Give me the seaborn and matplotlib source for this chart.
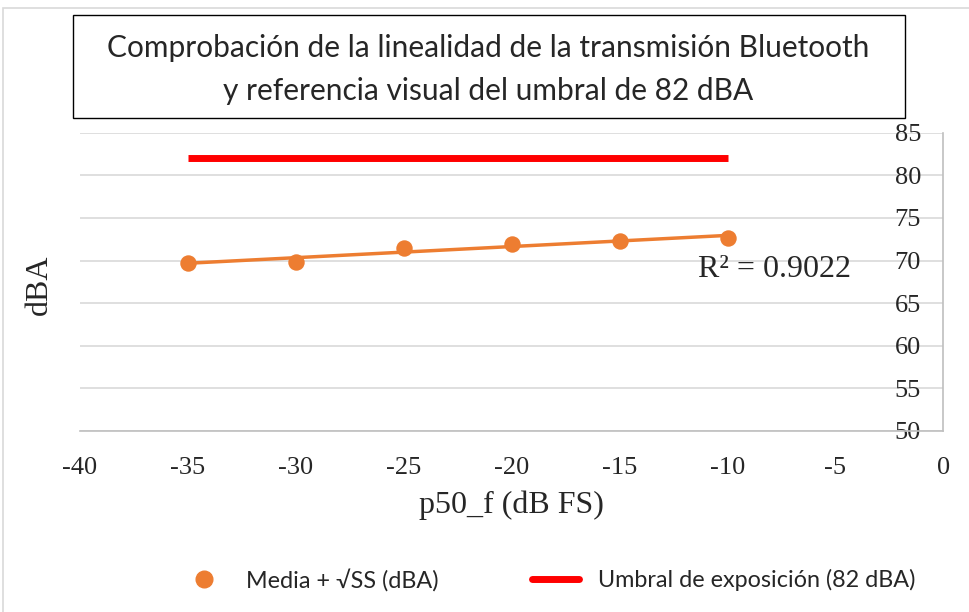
import numpy as np
import pandas as pd
import matplotlib
matplotlib.use("Agg")
import matplotlib.pyplot as plt
from matplotlib.patches import Rectangle
from matplotlib.lines import Line2D
import seaborn as sns

# ── Data ─────────────────────────────────────────────────
p50_f = [-35, -30, -25, -20, -15, -10]
media_ss = [69.7, 69.8, 71.5, 71.9, 72.3, 72.7]
umbral = 82
r2_text = "R² = 0.9022"

x_ticks = [-40, -35, -30, -25, -20, -15, -10, -5, 0]
y_ticks = [50, 55, 60, 65, 70, 75, 80, 85]

ORANGE = "#ED7D31"
RED = "#FF0000"
GRID = "#D9D9D9"
SERIF = "Liberation Serif"
SANS = "Lato"

sns.set_theme(style="white")
plt.rcParams["font.family"] = ["DejaVu Sans"]

df = pd.DataFrame({"x": p50_f, "y": media_ss})

fig = plt.figure(figsize=(9.7, 6.12), dpi=100)
ax = fig.add_axes([0.0825, 0.296, 0.89, 0.487])

# threshold line
ax.plot([min(p50_f), max(p50_f)], [umbral, umbral], color=RED, lw=5,
        solid_capstyle="butt", zorder=3)

# points + linear trend
sns.regplot(data=df, x="x", y="y", ci=None, truncate=True, ax=ax,
            color=ORANGE,
            scatter_kws=dict(s=140, alpha=1, zorder=4, linewidths=0),
            line_kws=dict(lw=2.5, zorder=3))

ax.set_xlim(-40, 0)
ax.set_ylim(50, 85)
ax.set_xticks(x_ticks)
ax.set_yticks(y_ticks)
ax.set_xticklabels([str(v) for v in x_ticks], fontfamily=SERIF, fontsize=19)
ax.set_yticklabels([str(v) for v in y_ticks], fontfamily=SERIF, fontsize=19)

ax.grid(axis="y", color=GRID, lw=1.2)
ax.grid(axis="x", visible=False)
ax.set_axisbelow(True)

for s in ["top", "left"]:
    ax.spines[s].set_visible(False)
for s in ["bottom", "right"]:
    ax.spines[s].set_color("#BFBFBF")
    ax.spines[s].set_linewidth(1.2)

ax.tick_params(axis="x", length=0, pad=19)
ax.tick_params(axis="y", left=False, right=False, labelleft=False,
               labelright=True, length=0, pad=-16)
for lab in ax.get_yticklabels():
    lab.set_horizontalalignment("right")

ax.set_xlabel("p50_f (dB FS)", fontfamily=SERIF, fontsize=23, labelpad=8)
ax.set_ylabel("dBA", fontfamily=SERIF, fontsize=23)
ax.yaxis.set_label_coords(-0.03, 0.49)

ax.text(-7.8, 69.0, r2_text, fontfamily=SERIF, fontsize=23, ha="center",
        va="center", zorder=5)

# title box
fig.patches.append(Rectangle((73 / 970, 1 - 118 / 612), 832 / 970, 103 / 612,
                             transform=fig.transFigure, fill=False,
                             edgecolor="black", lw=1.0))
fig.text(0.503, 1 - 48 / 612, "Comprobación de la linealidad de la transmisión Bluetooth",
         fontfamily=SANS, fontsize=21.5, ha="center", va="center")
fig.text(0.503, 1 - 91 / 612, "y referencia visual del umbral de 82 dBA",
         fontfamily=SANS, fontsize=21.5, ha="center", va="center")

# outer chart border
fig.patches.append(Rectangle((3 / 970, -0.01), 1.0, 1 - 8 / 612 + 0.01,
                             transform=fig.transFigure, fill=False,
                             edgecolor="#D9D9D9", lw=1.2))

# legend
handles = [Line2D([], [], marker="o", ls="none", color=ORANGE, markersize=12),
           Line2D([], [], color=RED, lw=5)]
leg = fig.legend(handles, ["Media + √SS (dBA)", "Umbral de exposición (82 dBA)"],
                 loc="center", bbox_to_anchor=(0.565, 1 - 580 / 612), ncol=2,
                 frameon=False, prop=dict(family=SANS, size=16.8),
                 columnspacing=4.0, handlelength=2.0, handletextpad=0.8)

fig.savefig("out.png", dpi=100, facecolor="white")
